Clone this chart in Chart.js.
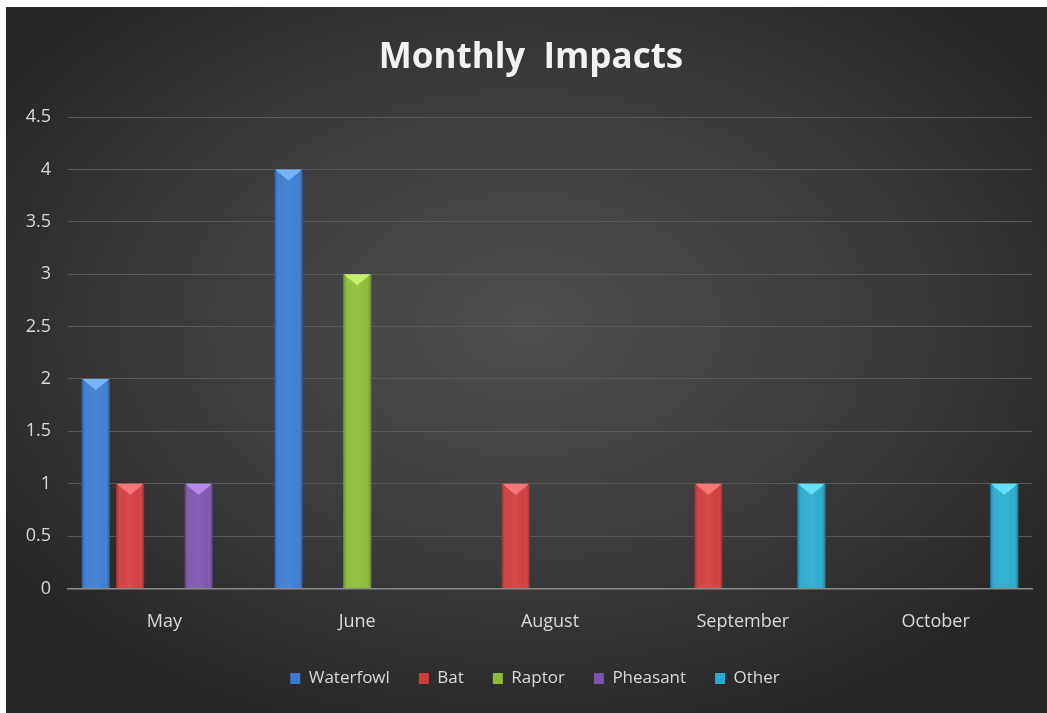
<!DOCTYPE html>
<html>
<head>
<meta charset="utf-8">
<script src="https://cdn.jsdelivr.net/npm/chart.js@4.4.1/dist/chart.umd.min.js"></script>
<style>
  html, body { margin: 0; padding: 0; background: #ffffff; }
  #panel {
    position: absolute; left: 6px; top: 7px; width: 1041px; height: 706px;
    background: radial-gradient(ellipse 60% 60% at 50% 45%, #4f4f4f 0%, #3e3e3e 50%, #272727 100%);
  }
</style>
</head>
<body>
<div id="panel"><canvas id="myChart"></canvas></div>
<script>
// months on the x axis
const months = ['May', 'June', 'August', 'September', 'October'];

// impacts per species
const waterfowl = [2, 4, 0, 0, 0];
const bat = [1, 0, 1, 1, 0];
const raptor = [0, 3, 0, 0, 0];
const pheasant = [1, 0, 0, 0, 0];
const other = [0, 0, 0, 1, 1];

const seriesNames = ['Waterfowl', 'Bat', 'Raptor', 'Pheasant', 'Other'];
const baseColors = ['#3a7bd2', '#d23c3c', '#8cbd38', '#7b55ad', '#27abcf'];
const tipColors = ['#74b6f7', '#f47878', '#c8ee6c', '#b98be8', '#66e0f8'];

// bar shading: darker edges and the light chevron on top
const barShade = {
    id: 'barShade',
    afterDatasetsDraw(chart) {
        const ctx = chart.ctx;
        chart.data.datasets.forEach((ds, di) => {
            chart.getDatasetMeta(di).data.forEach(bar => {
                const h = bar.base - bar.y;
                if (h < 1) return;
                const left = bar.x - bar.width / 2;
                const right = bar.x + bar.width / 2;
                ctx.save();
                let g = ctx.createLinearGradient(left, 0, right, 0);
                g.addColorStop(0, 'rgba(0,0,0,0.28)');
                g.addColorStop(0.2, 'rgba(255,255,255,0.04)');
                g.addColorStop(0.5, 'rgba(255,255,255,0.08)');
                g.addColorStop(0.8, 'rgba(255,255,255,0.02)');
                g.addColorStop(1, 'rgba(0,0,0,0.32)');
                ctx.fillStyle = g;
                ctx.fillRect(left, bar.y, bar.width, h);
                // chevron
                ctx.fillStyle = tipColors[di];
                ctx.beginPath();
                ctx.moveTo(left + 1, bar.y);
                ctx.lineTo(right - 1, bar.y);
                ctx.lineTo(right - 4, bar.y + 3);
                ctx.lineTo(bar.x, bar.y + 11);
                ctx.lineTo(left + 4, bar.y + 3);
                ctx.closePath();
                ctx.fill();
                ctx.restore();
            });
        });
    }
};

// title and legend sit a bit right of the panel centre in the original
const nudgeBoxes = {
    id: 'nudgeBoxes',
    afterLayout(chart) {
        chart.titleBlock.left += 24;
        chart.legend.left += 32;
    }
};

const seriesData = [waterfowl, bat, raptor, pheasant, other];
let datasets = [];
for (let i = 0; i < seriesNames.length; i++) {
    datasets.push({
        label: seriesNames[i],
        data: seriesData[i],
        backgroundColor: baseColors[i],
        borderWidth: 0,
        categoryPercentage: 0.89,
        barPercentage: 0.82
    });
}

const fontFamily = '"Open Sans", "Noto Sans", sans-serif';
let ctx = document.getElementById('myChart').getContext('2d');
let myChart = new Chart(ctx, {
    type: 'bar',
    data: { labels: months, datasets: datasets },
    plugins: [barShade, nudgeBoxes],
    options: {
        responsive: true,
        maintainAspectRatio: false,
        animation: false,
        layout: { padding: { left: 0, right: 15, top: 0, bottom: 16 } },
        plugins: {
            title: {
                display: true,
                text: 'Monthly  Impacts',
                color: '#f2f2f2',
                font: { family: fontFamily, size: 35, weight: 'bold' },
                padding: { top: 30, bottom: 38 }
            },
            legend: {
                position: 'bottom',
                labels: {
                    color: '#d9d9d9',
                    font: { family: fontFamily, size: 17 },
                    boxWidth: 10,
                    boxHeight: 11,
                    padding: 29
                }
            },
            tooltip: { enabled: false }
        },
        scales: {
            x: {
                afterFit(scale) { scale.height = 52.6; },
                grid: { display: false },
                border: { color: '#8c8c8c', width: 1.5 },
                ticks: { color: '#d9d9d9', font: { family: fontFamily, size: 18 }, padding: 15 }
            },
            y: {
                min: 0,
                max: 4.5,
                afterFit(scale) { scale.width = 62; },
                border: { display: false },
                grid: {
                    drawTicks: false,
                    color: c => c.tick && c.tick.value === 0 ? '#8c8c8c' : '#5a5a5a',
                    lineWidth: 1
                },
                ticks: {
                    stepSize: 0.5,
                    callback: v => v,
                    color: '#d9d9d9',
                    font: { family: fontFamily, size: 18 },
                    padding: 17
                }
            }
        }
    }
});
</script>
</body>
</html>
